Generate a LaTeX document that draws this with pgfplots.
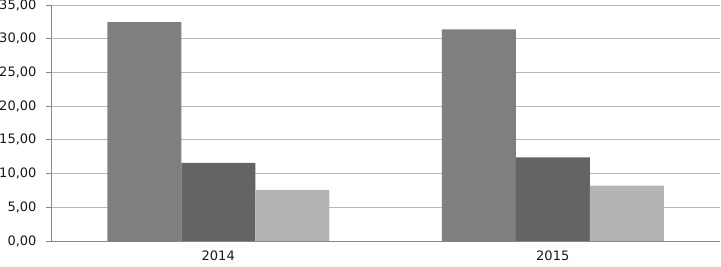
\documentclass[border=0pt]{standalone}
\usepackage{pgfplots}
\pgfplotsset{compat=1.18}
\usepackage{fontspec}
\setmainfont{DejaVu Sans}
\definecolor{barA}{HTML}{7F7F7F}
\definecolor{barB}{HTML}{646464}
\definecolor{barC}{HTML}{B4B4B4}
\definecolor{gridc}{HTML}{B8B8B8}
\definecolor{axc}{HTML}{868686}
\begin{document}
\begin{tikzpicture}
\begin{axis}[
  scale only axis,
  width=669pt, height=236pt,
  xmin=-0.5, xmax=1.5,
  ymin=0, ymax=35,
  ytick={0,5,...,35},
  xtick={0,1},
  xticklabels={2014,2015},
  extra x ticks={-0.5,0.5,1.5},
  extra x tick labels={},
  extra x tick style={major tick length=5pt, tick style={axc, line width=0.8pt}},
  x tick style={draw=none},
  major tick length=5pt,
  tick align=outside,
  y tick style={axc, line width=0.8pt},
  ymajorgrids,
  grid style={gridc, line width=0.8pt},
  axis x line*=bottom,
  axis y line*=left,
  axis line style={axc, line width=0.8pt, -},
  tick label style={font=\fontsize{13}{15}\selectfont, text=black!90},
  yticklabel style={/pgf/number format/.cd, fixed, fixed zerofill, precision=2, use comma, assume math mode=true},
  yticklabel shift=6pt,
  xticklabel shift=1pt,
  ybar=0pt,
  bar width=74pt,
  clip=false,
]
\addplot[fill=barA, draw=none, bar shift=-74pt] coordinates {(0,32.45) (1,31.4)};
\addplot[fill=barB, draw=none, bar shift=0pt] coordinates {(0,11.57) (1,12.4)};
\addplot[fill=barC, draw=none, bar shift=74pt] coordinates {(0,7.57) (1,8.2)};
\coordinate (bl) at (rel axis cs:0,0);
\coordinate (tr) at (rel axis cs:1,1);
\end{axis}
\pgfresetboundingbox
\path ([shift={(-51pt,-26pt)}]bl) rectangle ([shift={(1pt,5pt)}]tr);
\end{tikzpicture}
\end{document}
